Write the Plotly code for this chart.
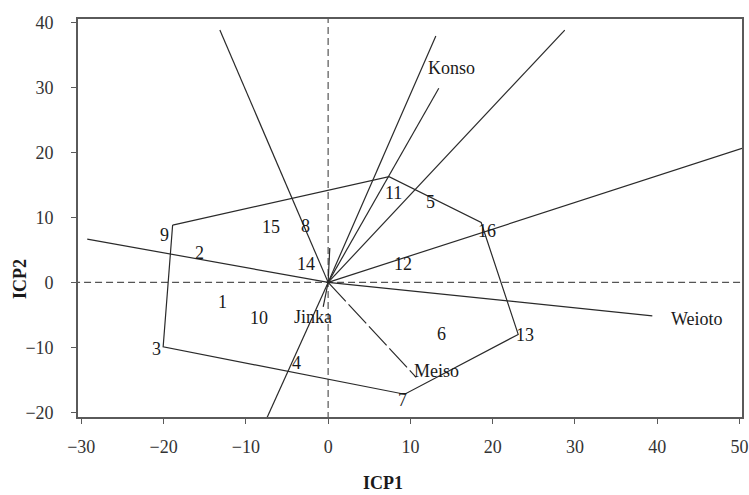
import plotly.graph_objects as go

# ---------------- data ----------------
genotypes = [str(i) for i in range(1, 17)]
geno_x = [-12.8, -15.6, -20.05, -3.9, 12.5, 13.8, 9.3, -2.8, -18.9, -8.4, 7.4, 9.1, 23.1, -2.7, -6.9, 18.6]
geno_y = [-3.0, 4.5, -9.9, -12.4, 12.4, -8.0, -17.2, 8.7, 8.8, -5.45, 16.25, 2.9, -8.0, 2.9, 8.55, 9.2]

# polygon (which-won-where) vertex genotypes, in drawing order
hull = ["9", "11", "16", "13", "7", "3", "9"]

# environment vectors
env_names = ["Konso", "Weioto", "Meiso", "Jinka"]
env_x = [13.45, 39.4, 10.7, -0.6]
env_y = [29.85, -5.14, -14.6, -3.75]

# other rays from the origin (sector lines / unlabeled vectors)
ray_x = [-13.16, 28.76, 50.3, -7.57, -29.28, 13.09, 0.2]
ray_y = [38.8, 38.8, 20.6, -21.2, 6.66, 37.9, 5.3]

x_ticks = [-30, -20, -10, 0, 10, 20, 30, 40, 50]
y_ticks = [-20, -10, 0, 10, 20, 30, 40]

# ---------------- style ----------------
FONT = "Liberation Serif"
LINE = "#2a2a2a"
label_shift = {"3": (-7, -2), "7": (-2, -6), "9": (-8, -10), "11": (4, -16),
               "13": (7, -1), "16": (6, -8)}
env_shift = {"Konso": (13, 20), "Weioto": (45, -3), "Meiso": (20, 6), "Jinka": (-10, -10)}
env_dash = {"Meiso": "26px,4px"}

fig = go.Figure()

# dashed reference axes
fig.add_trace(go.Scatter(x=[-31, 51], y=[0, 0], mode="lines",
                         line=dict(color="#555", width=1.2, dash="7px,4px"),
                         hoverinfo="skip", showlegend=False))
fig.add_trace(go.Scatter(x=[0, 0], y=[-21, 41], mode="lines",
                         line=dict(color="#555", width=1.2, dash="7px,4px"),
                         hoverinfo="skip", showlegend=False))

# rays
for ex, ey in zip(ray_x, ray_y):
    fig.add_trace(go.Scatter(x=[0, ex], y=[0, ey], mode="lines",
                             line=dict(color=LINE, width=1.2),
                             hoverinfo="skip", showlegend=False))

# environment vectors
for name, ex, ey in zip(env_names, env_x, env_y):
    fig.add_trace(go.Scatter(x=[0, ex], y=[0, ey], mode="lines",
                             line=dict(color=LINE, width=1.2, dash=env_dash.get(name, "solid")),
                             hoverinfo="skip", showlegend=False))
    dx, dy = env_shift[name]
    fig.add_annotation(x=ex, y=ey, text=name, showarrow=False, xshift=dx, yshift=dy,
                       font=dict(family=FONT, size=18, color="#1a1a1a"))

# polygon
idx = [genotypes.index(g) for g in hull]
fig.add_trace(go.Scatter(x=[geno_x[i] for i in idx], y=[geno_y[i] for i in idx],
                         mode="lines", line=dict(color=LINE, width=1.2),
                         hoverinfo="skip", showlegend=False))

# genotype labels
for g, gx, gy in zip(genotypes, geno_x, geno_y):
    dx, dy = label_shift.get(g, (0, 0))
    fig.add_annotation(x=gx, y=gy, text=g, showarrow=False, xshift=dx, yshift=dy,
                       font=dict(family=FONT, size=18, color="#1a1a1a"))

# axis titles
fig.add_annotation(x=(383 - 78) / 664, y=(417 - 483) / 398, xref="paper", yref="paper",
                   xanchor="center", yanchor="middle",
                   text="<b>ICP1</b>", showarrow=False,
                   font=dict(family=FONT, size=18, color="#1a1a1a"))
fig.add_annotation(x=(20 - 78) / 664, y=(417 - 279) / 398, xref="paper", yref="paper",
                   xanchor="center", yanchor="middle",
                   text="<b>ICP2</b>", showarrow=False, textangle=-90,
                   font=dict(family=FONT, size=18, color="#1a1a1a"))

axis_common = dict(showgrid=False, zeroline=False, showline=True, linecolor="#5a5a5a",
                   linewidth=1.6, mirror=True, ticks="outside", ticklen=5, tickwidth=1.2,
                   tickcolor="#5a5a5a", automargin=False,
                   tickfont=dict(family=FONT, size=18, color="#333"))

fig.update_layout(
    width=749, height=495,
    margin=dict(l=78, r=7, t=19, b=78, autoexpand=False),
    paper_bgcolor="white", plot_bgcolor="white",
    xaxis=dict(range=[-30.4, 50.3], tickvals=x_ticks, ticklabelstandoff=8, **axis_common),
    yaxis=dict(range=[-20.7, 40.5], tickvals=y_ticks, ticklabelstandoff=14, **axis_common),
)

fig.write_html("out.html")
